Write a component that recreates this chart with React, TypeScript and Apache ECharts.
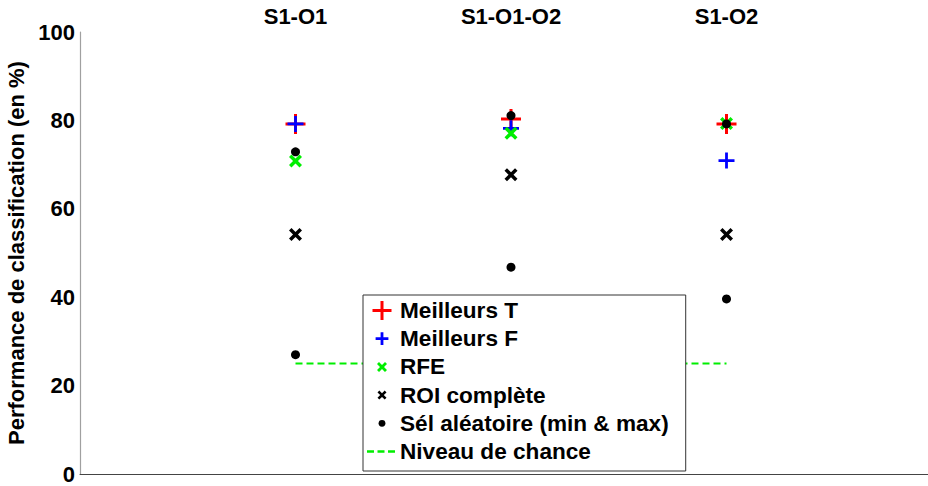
import React, { useEffect, useRef } from "react";
import * as echarts from "echarts";

const categories = ["S1-O1", "S1-O1-O2", "S1-O2"];
const meilleursT = [79.2, 80.3, 79.2];
const meilleursF = [79.2, 78.2, 70.9];
const rfe = [70.8, 77.1, 79.3];
const roiComplete = [54.2, 67.7, 54.2];
const selMin = [27.0, 46.8, 39.6];
const selMax = [72.9, 81.1, 79.2];
const chanceLevel = 25;
const yTicks = [0, 20, 40, 60, 80, 100];

const FONT = "'Liberation Sans', Arial, sans-serif";
const FS = 22;

const plus20 = "path://M8.5,0h3v8.5h8.5v3h-8.5v8.5h-3v-8.5h-8.5v-3h8.5z";
const plus16 = "path://M6.6,0h2.8v6.6h6.6v2.8h-6.6v6.6h-2.8v-6.6h-6.6v-2.8h6.6z";
const cross10 =
  "path://M0,1.9L1.9,0L5,3.1L8.1,0L10,1.9L6.9,5L10,8.1L8.1,10L5,6.9L1.9,10L0,8.1L3.1,5z";

// legend icons drawn in a 28x20 box (corner moves fix the box)
const BOX = "M0,0M28,20";
const legPlusBig = "path://" + BOX + "M13.5,0.5h3v8h8v3h-8v8h-3v-8h-8v-3h8z";
const legPlusSmall = "path://" + BOX + "M13.6,3.6h2.8v5h5v2.8h-5v5h-2.8v-5h-5v-2.8h5z";
const legCross =
  "path://" + BOX + "M10,7L12,5L15,8L18,5L20,7L17,10L20,13L18,15L15,12L12,15L10,13L13,10z";
const legCrossSmall =
  "path://" + BOX + "M10.5,7.3L12.3,5.5L15,8.2L17.7,5.5L19.5,7.3L16.8,10L19.5,12.7L17.7,14.5L15,11.8L12.3,14.5L10.5,12.7L13.2,10z";
const legDot = "path://" + BOX + "M11.6,10a3.4,3.4 0 1,0 6.8,0a3.4,3.4 0 1,0 -6.8,0z";
const legDash = "path://" + BOX + "M0,8.8h7v2.4h-7zM10.5,8.8h7v2.4h-7zM21,8.8h7v2.4h-7z";

export default function App() {
  const ref = useRef<HTMLDivElement>(null);
  useEffect(() => {
    document.body.style.margin = "0";
    if (!ref.current) return;
    const chart = echarts.init(ref.current, null, { renderer: "svg" });
    const xy = (arr: number[]) => arr.map((v, i) => [i + 1, v]);
    const option: any = {
      animation: false,
      backgroundColor: "#ffffff",
      grid: { left: 80, top: 32, right: 0, bottom: 12, containLabel: false, outerBoundsMode: "none" },
      xAxis: {
        type: "value",
        position: "top",
        min: 0,
        max: 3.935,
        interval: 1,
        axisLine: { show: true, lineStyle: { color: "#444444", width: 1 } },
        axisTick: { show: false },
        splitLine: { show: false },
        axisLabel: {
          margin: 5,
          color: "#000",
          fontFamily: FONT,
          fontWeight: "bold",
          fontSize: FS,
          formatter: (v: number) => categories[v - 1] || "",
        },
      },
      yAxis: {
        type: "value",
        min: yTicks[0],
        max: yTicks[yTicks.length - 1],
        interval: 20,
        name: "Performance de classification (en %)",
        nameLocation: "middle",
        nameGap: 50,
        nameRotate: 90,
        nameTextStyle: { color: "#000", fontFamily: FONT, fontWeight: "bold", fontSize: FS },
        axisLine: { show: true, lineStyle: { color: "#a0a0a0", width: 1.2 } },
        axisTick: { show: false },
        splitLine: { show: false },
        axisLabel: { margin: 5, color: "#000", fontFamily: FONT, fontWeight: "bold", fontSize: FS },
      },
      legend: {
        orient: "vertical",
        left: 363,
        top: 295,
        itemWidth: 28,
        itemHeight: 20,
        itemGap: 5.2,
        padding: [4, 17, 8, 4],
        backgroundColor: "#ffffff",
        borderColor: "#333333",
        borderWidth: 1,
        borderRadius: 0,
        textStyle: { color: "#000", fontFamily: FONT, fontWeight: "bold", fontSize: 22.6, lineHeight: 22 },
        data: [
          { name: "Meilleurs T", icon: legPlusBig, itemStyle: { color: "#ff0000" } },
          { name: "Meilleurs F", icon: legPlusSmall, itemStyle: { color: "#0000ff" } },
          { name: "RFE", icon: legCross, itemStyle: { color: "#00ee00" } },
          { name: "ROI complète", icon: legCrossSmall, itemStyle: { color: "#000000" } },
          { name: "Sél aléatoire (min & max)", icon: legDot, itemStyle: { color: "#000000" } },
          { name: "Niveau de chance", icon: legDash, itemStyle: { color: "#00ee00" } },
        ],
      },
      series: [
        {
          name: "Meilleurs T",
          type: "scatter",
          symbol: plus20,
          symbolSize: 20,
          itemStyle: { color: "#ff0000", opacity: 1 },
          data: xy(meilleursT),
        },
        {
          name: "Meilleurs F",
          type: "scatter",
          symbol: plus16,
          symbolSize: 16,
          itemStyle: { color: "#0000ff", opacity: 1 },
          data: xy(meilleursF),
        },
        {
          name: "RFE",
          type: "scatter",
          symbol: cross10,
          symbolSize: 13,
          itemStyle: { color: "#00ee00", opacity: 1 },
          data: xy(rfe),
        },
        {
          name: "ROI complète",
          type: "scatter",
          symbol: cross10,
          symbolSize: 13,
          itemStyle: { color: "#000000", opacity: 1 },
          data: xy(roiComplete),
        },
        {
          name: "Sél aléatoire (min & max)",
          type: "scatter",
          symbol: "circle",
          symbolSize: 9,
          itemStyle: { color: "#000000", opacity: 1 },
          data: [...xy(selMin), ...xy(selMax)],
        },
        {
          name: "Niveau de chance",
          type: "line",
          symbol: "none",
          lineStyle: { color: "#00ee00", width: 2, type: [7, 4] },
          itemStyle: { color: "#00ee00" },
          data: [
            [1, chanceLevel],
            [categories.length, chanceLevel],
          ],
        },
      ],
    };
    chart.setOption(option);
    return () => chart.dispose();
  }, []);
  return <div ref={ref} style={{ width: 928, height: 486 }} />;
}
